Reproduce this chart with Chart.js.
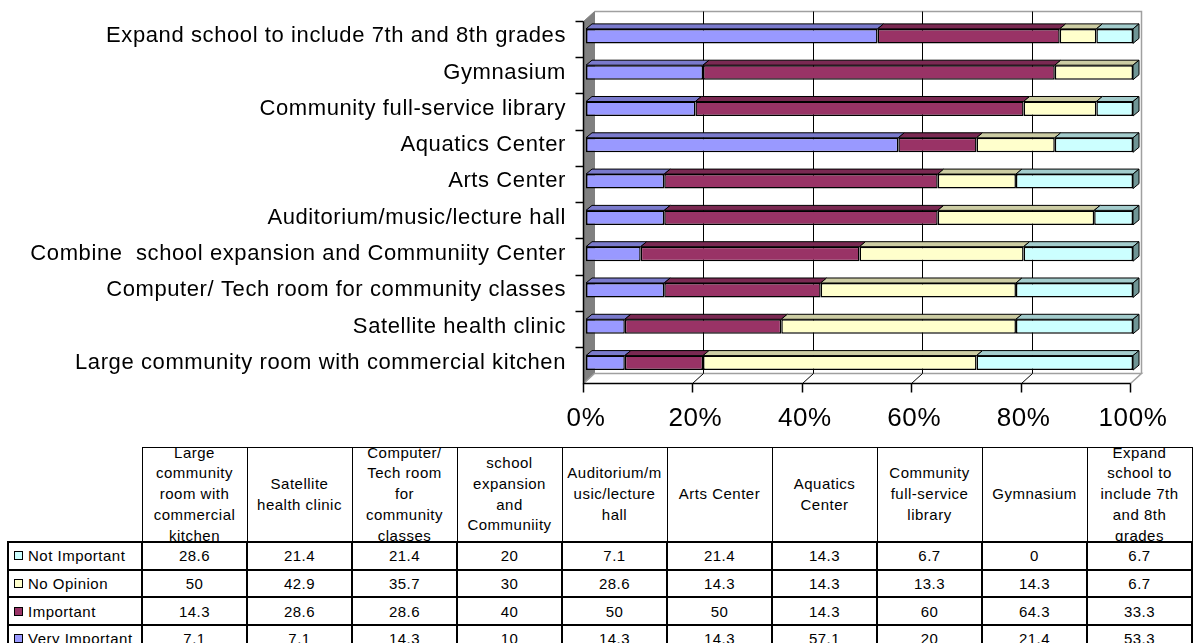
<!DOCTYPE html>
<html>
<head>
<meta charset="utf-8">
<script src="https://cdn.jsdelivr.net/npm/chart.js@4.4.0/dist/chart.umd.min.js"></script>
<style>
  html, body { margin: 0; padding: 0; background: #fff; }
  body { width: 1195px; height: 643px; position: relative; overflow: hidden; font-family: "Liberation Sans", Arial, sans-serif; }
  #chart { position: absolute; left: 0; top: 0; }
  #tbl { position: absolute; left: 7px; top: 447px; border-collapse: collapse; table-layout: fixed; font-size: 15px; letter-spacing: 0.5px; color: #000; }
  #tbl td { padding: 0; text-align: center; vertical-align: middle; }
  #tbl tr.head td { border: 1px solid #000; height: 93px; }
  #tbl tr.head td.blank { border: none; }
  #tbl .hcell { height: 93px; overflow: hidden; display: flex; align-items: center; justify-content: center; line-height: 20.7px; padding: 0 4px; overflow-wrap: anywhere; }
  #tbl tr.row td { border: 2px solid #000; height: 25.7px; }
  #tbl td.name { text-align: left; padding-left: 5px; white-space: nowrap; }
  .sw { display: inline-block; width: 7px; height: 7px; border: 1px solid #000; margin-right: 5px; vertical-align: 1px; }
</style>
</head>
<body>
<canvas id="chart" width="1195" height="445"></canvas>
<table id="tbl"></table>
<script>
// categories in table order (bottom to top in the chart)
const categories = [
  'Large community room with commercial kitchen',
  'Satellite health clinic',
  'Computer/ Tech room for community classes',
  'Combine  school expansion and Communiity Center',
  'Auditorium/music/lecture hall',
  'Arts Center',
  'Aquatics Center',
  'Community full-service library',
  'Gymnasium',
  'Expand school to include 7th and 8th grades'
];
const notImportant  = [28.6, 21.4, 21.4, 20, 7.1, 21.4, 14.3, 6.7, 0, 6.7];
const noOpinion     = [50, 42.9, 35.7, 30, 28.6, 14.3, 14.3, 13.3, 14.3, 6.7];
const important     = [14.3, 28.6, 28.6, 40, 50, 50, 14.3, 60, 64.3, 33.3];
const veryImportant = [7.1, 7.1, 14.3, 10, 14.3, 14.3, 57.1, 20, 21.4, 53.3];
const xTickLabels = ['0%', '20%', '40%', '60%', '80%', '100%'];

// colours: front face, top face, side face
const frontColors = ['#9999FF', '#993366', '#FFFFCC', '#CCFFFF'];
const topColors   = ['#7A7ACC', '#7A2952', '#CCCCA3', '#A3CCCC'];
const sideColors  = ['#5C5C99', '#5C1F3D', '#99997A', '#6F9595'];

function poly(ctx, pts, fill, stroke, lw) {
  ctx.beginPath();
  ctx.moveTo(pts[0][0], pts[0][1]);
  for (let i = 1; i < pts.length; i++) ctx.lineTo(pts[i][0], pts[i][1]);
  ctx.closePath();
  if (fill) { ctx.fillStyle = fill; ctx.fill(); }
  if (stroke) { ctx.strokeStyle = stroke; ctx.lineWidth = lw || 1; ctx.stroke(); }
}
function line(ctx, pts, color, lw) {
  ctx.beginPath();
  ctx.moveTo(pts[0][0], pts[0][1]);
  for (let i = 1; i < pts.length; i++) ctx.lineTo(pts[i][0], pts[i][1]);
  ctx.strokeStyle = color; ctx.lineWidth = lw || 1; ctx.stroke();
}

// excel-like 3d walls, floor and bar faces
const frame3d = {
  id: 'frame3d',
  beforeDraw(chart) {
    chart.ctx.letterSpacing = '0.6px';
  },
  beforeDatasetsDraw(chart) {
    const { ctx, chartArea: a, scales: { x } } = chart;
    const fx = v => Math.round(x.getPixelForValue(v) - 3) + 0.5;
    const dx = 11, dy = 10;
    const fy = Math.round(a.bottom + 2) + 0.5;
    const yb = fy - dy, yt = Math.round(a.top - 7) + 0.5;
    const bx = v => fx(v) + dx;
    ctx.save();
    // left wall
    poly(ctx, [[fx(0), yt + dy], [bx(0), yt], [bx(0), yb], [fx(0), fy]], '#808080', '#808080');
    // back wall outline
    line(ctx, [[bx(0), yt], [bx(100), yt], [bx(100), yb]], '#A0A0A0', 1.5);
    // floor
    line(ctx, [[fx(0), fy], [bx(0), yb], [bx(100), yb], [fx(100), fy]], '#A0A0A0', 1.5);
    // grid lines on wall and floor
    for (let v = 20; v < 100; v += 20) {
      line(ctx, [[bx(v), yt], [bx(v), yb], [fx(v), fy]], '#000', 1);
    }
    // axes
    line(ctx, [[fx(0), yt + dy], [fx(0), fy], [fx(100), fy]], '#000', 1.5);
    for (let v = 0; v <= 100; v += 20) line(ctx, [[fx(v), fy], [fx(v), fy + 9]], '#000', 1.5);
    const band = (a.bottom - a.top) / categories.length;
    for (let k = 0; k < categories.length; k++) {
      const yy = Math.round(a.top + 2.7 + k * band) + 0.5;
      line(ctx, [[fx(0) - 8, yy], [fx(0), yy]], '#000', 1.5);
    }
    ctx.restore();
  },
  afterDatasetsDraw(chart) {
    const { ctx } = chart;
    const ddx = 6, ddy = 5;
    const n = chart.data.datasets.length;
    ctx.save();
    for (let d = 0; d < n; d++) {
      const meta = chart.getDatasetMeta(d);
      meta.data.forEach(el => {
        const p = el.getProps(['x', 'y', 'base', 'height'], true);
        const y0 = p.y - p.height / 2;
        if (Math.abs(p.x - p.base) > 0.5) {
          poly(ctx, [[p.base, y0], [p.base + ddx, y0 - ddy], [p.x + ddx, y0 - ddy], [p.x, y0]], topColors[d], '#000', 1);
        }
        if (d === n - 1) {
          poly(ctx, [[p.x, y0], [p.x + ddx, y0 - ddy], [p.x + ddx, y0 + p.height - ddy], [p.x, y0 + p.height]], sideColors[d], '#000', 1);
        }
      });
    }
    ctx.restore();
  }
};

const seriesNames = ['Very Important', 'Important', 'No Opinion', 'Not Important'];
const seriesData = [veryImportant, important, noOpinion, notImportant];

const chart = new Chart(document.getElementById('chart'), {
  type: 'bar',
  data: {
    labels: categories,
    datasets: seriesData.map((data, i) => ({
      label: seriesNames[i],
      data: data,
      backgroundColor: frontColors[i],
      borderColor: '#000',
      borderWidth: 1.5,
      borderSkipped: false,
      barPercentage: 0.4,
      categoryPercentage: 1
    }))
  },
  options: {
    indexAxis: 'y',
    responsive: false,
    animation: false,
    layout: { padding: { top: 18, right: 62, left: 0, bottom: 0 } },
    plugins: { legend: { display: false }, tooltip: { enabled: false } },
    scales: {
      x: {
        stacked: true, min: 0, max: 100,
        grid: { display: false, drawTicks: false },
        border: { display: false },
        ticks: {
          stepSize: 20, padding: 22, color: '#000', maxRotation: 0, autoSkip: false,
          font: { family: 'Liberation Sans', size: 26 },
          callback: v => xTickLabels[Math.round(v / 20)]
        },
        afterFit(s) { s.height = 64; s.paddingLeft = 0; s.paddingRight = 0; }
      },
      y: {
        stacked: true, reverse: true,
        grid: { display: false, drawTicks: false },
        border: { display: false },
        ticks: { padding: 20, color: '#000', autoSkip: false, font: { family: 'Liberation Sans', size: 22 } },
        afterFit(s) { s.width = 586; s.paddingTop = 0; s.paddingBottom = 0; }
      }
    }
  },
  plugins: [frame3d]
});

// data table under the chart
const tableRows = [
  ['Not Important', notImportant, frontColors[3]],
  ['No Opinion', noOpinion, frontColors[2]],
  ['Important', important, frontColors[1]],
  ['Very Important', veryImportant, frontColors[0]]
];
const tbl = document.getElementById('tbl');
let html = '<colgroup><col style="width:134px">' + categories.map(() => '<col style="width:105px">').join('') + '</colgroup>';
html += '<tr class="head"><td class="blank"></td>' + categories.map(c => '<td><div class="hcell">' + c + '</div></td>').join('') + '</tr>';
tableRows.forEach(r => {
  html += '<tr class="row"><td class="name"><span class="sw" style="background:' + r[2] + '"></span>' + r[0] + '</td>' +
    r[1].map(v => '<td>' + v + '</td>').join('') + '</tr>';
});
tbl.innerHTML = html;
</script>
</body>
</html>
